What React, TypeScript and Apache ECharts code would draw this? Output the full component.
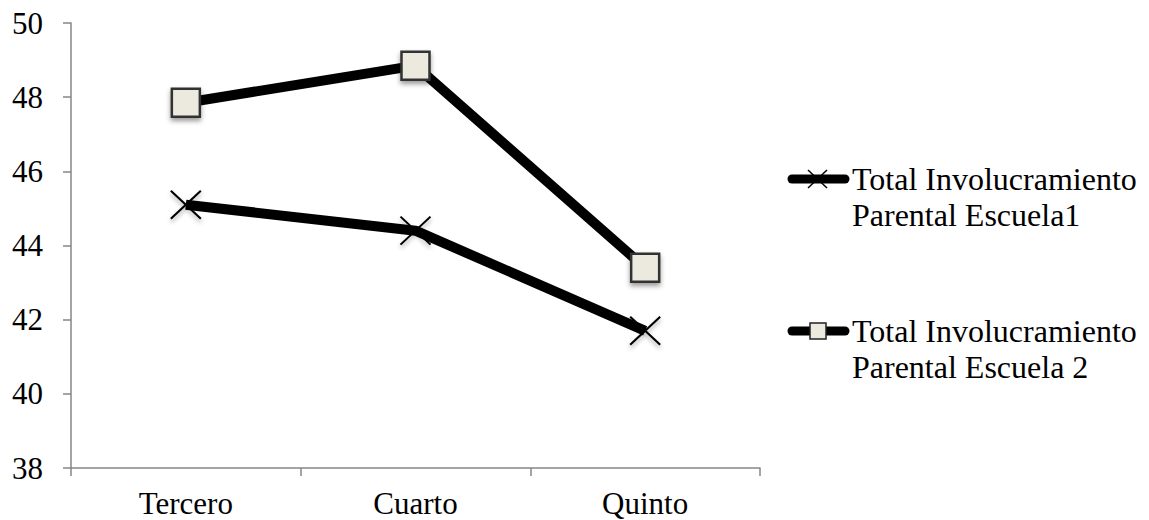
import React, { useEffect, useRef } from "react";
import * as echarts from "echarts";

const categories = ["Tercero", "Cuarto", "Quinto"];
const escuela1 = [45.1, 44.4, 41.7];
const escuela2 = [47.85, 48.85, 43.4];
const seriesNames = [
  "Total Involucramiento\nParental Escuela1",
  "Total Involucramiento\nParental Escuela 2",
];

const FONT = "Times New Roman, Liberation Serif, DejaVu Serif, serif";
const AXIS = "#868686";
const SQUARE_FILL = "#ECEADF";
const X_PATH = "path://M0,0L10,10M10,0L0,10";

export default function App() {
  const ref = useRef<HTMLDivElement>(null);
  useEffect(() => {
    if (!ref.current) return;
    const chart = echarts.init(ref.current, null, { renderer: "svg" });
    const legendText = (x: number, y: number, t: string) => ({
      type: "text",
      x,
      y,
      style: {
        text: t,
        fontFamily: FONT,
        fontSize: 32,
        fill: "#000",
        lineHeight: 36,
        align: "left",
        verticalAlign: "middle",
      },
    });
    chart.setOption({
      animation: false,
      textStyle: { fontFamily: FONT },
      grid: { left: 71, right: 389, top: 23, bottom: 52, containLabel: false },
      xAxis: {
        type: "category",
        data: categories,
        boundaryGap: true,
        axisLine: { lineStyle: { color: AXIS, width: 1.5 } },
        axisTick: { show: true, length: 8, alignWithLabel: false, lineStyle: { color: AXIS, width: 1.5 } },
        axisLabel: { color: "#000", fontSize: 31, fontFamily: FONT, margin: 20 },
        splitLine: { show: false },
      },
      yAxis: {
        type: "value",
        min: 38,
        max: 50,
        interval: 2,
        axisLine: { show: true, lineStyle: { color: AXIS, width: 1.5 } },
        axisTick: { show: true, length: 8, lineStyle: { color: AXIS, width: 1.5 } },
        axisLabel: { color: "#000", fontSize: 31, fontFamily: FONT, margin: 28 },
        splitLine: { show: false },
      },
      series: [
        {
          name: seriesNames[0],
          type: "line",
          data: escuela1,
          symbol: X_PATH,
          symbolSize: [30, 28],
          lineStyle: { color: "#000", width: 10 },
          itemStyle: {
            color: "transparent",
            borderColor: "#000",
            borderWidth: 2,
            shadowBlur: 4,
            shadowColor: "rgba(0,0,0,0.35)",
            shadowOffsetY: 3,
          },
          z: 2,
        },
        {
          name: seriesNames[1],
          type: "line",
          data: escuela2,
          symbol: "rect",
          symbolSize: 28,
          lineStyle: { color: "#000", width: 10 },
          itemStyle: {
            color: SQUARE_FILL,
            borderColor: "#333",
            borderWidth: 2.5,
            shadowBlur: 5,
            shadowColor: "rgba(0,0,0,0.4)",
            shadowOffsetY: 3,
          },
          z: 3,
        },
      ],
      graphic: [
        {
          type: "line",
          shape: { x1: 792, y1: 179, x2: 845, y2: 179 },
          style: { stroke: "#000", lineWidth: 9, lineCap: "round" },
        },
        {
          type: "polyline",
          shape: { points: [[808, 170], [827, 188]] },
          style: { stroke: "#000", lineWidth: 1.5 },
        },
        {
          type: "polyline",
          shape: { points: [[827, 170], [808, 188]] },
          style: { stroke: "#000", lineWidth: 1.5 },
        },
        legendText(852, 197, seriesNames[0]),
        {
          type: "line",
          shape: { x1: 792, y1: 331, x2: 845, y2: 331 },
          style: { stroke: "#000", lineWidth: 9, lineCap: "round" },
        },
        {
          type: "rect",
          shape: { x: 810, y: 323, width: 16, height: 16 },
          style: { fill: SQUARE_FILL, stroke: "#222", lineWidth: 1.5 },
        },
        legendText(852, 349, seriesNames[1]),
      ],
    });
    return () => chart.dispose();
  }, []);
  return (
    <div
      ref={ref}
      style={{ position: "fixed", left: 0, top: 0, width: 1149, height: 520, background: "#fff" }}
    />
  );
}
